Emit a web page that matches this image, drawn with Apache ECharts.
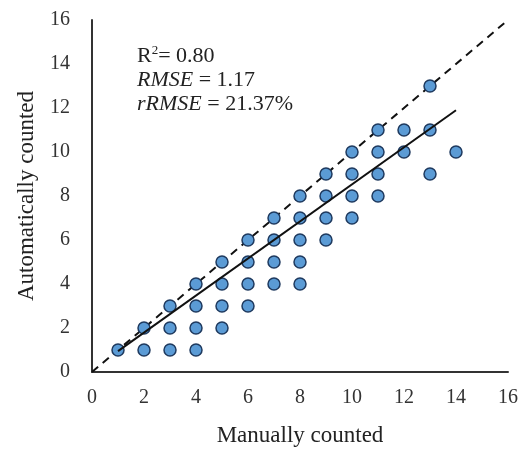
<!DOCTYPE html>
<html>
<head>
<meta charset="utf-8">
<script src="https://cdn.jsdelivr.net/npm/echarts@6/dist/echarts.min.js"></script>
<style>html,body{margin:0;padding:0;background:#fff}#c{width:525px;height:450px}</style>
</head>
<body>
<div id="c"></div>
<script>
var manual = [1,2,2,3,3,3,4,4,4,4,5,5,5,5,6,6,6,6,7,7,7,7,8,8,8,8,8,9,9,9,9,10,10,10,10,11,11,11,11,12,12,13,13,13,14];
var auto   = [1,1,2,1,2,3,1,2,3,4,2,3,4,5,3,4,5,6,4,5,6,7,4,5,6,7,8,6,7,8,9,7,8,9,10,8,9,10,11,10,11,9,11,13,10];
var oneToOneX = [0,16];
var oneToOneY = [0,16];
var fitX = [1,14];
var fitY = [0.95,11.9];
var ticks = [0,2,4,6,8,10,12,14,16];
var statLines = ['R\u00b2 = 0.80','RMSE = 1.17','rRMSE = 21.37%'];

var font = 'Liberation Serif';
var chart = echarts.init(document.getElementById('c'));
var pts = manual.map(function(v,i){return [v, auto[i]];});
chart.setOption({
  animation:false,
  grid:{left:92,right:17,top:20,bottom:78,containLabel:false,outerBoundsMode:'none'},
  xAxis:{type:'value',min:ticks[0],max:ticks[ticks.length-1],interval:2,
    name:'Manually counted',nameLocation:'middle',nameGap:52,
    nameTextStyle:{fontFamily:font,fontSize:23,color:'#222'},
    axisLine:{show:true,onZero:false,lineStyle:{color:'#333',width:2}},
    axisTick:{show:false},splitLine:{show:false},
    axisLabel:{fontFamily:font,fontSize:20,color:'#333',margin:16}},
  yAxis:{type:'value',min:ticks[0],max:ticks[ticks.length-1],interval:2,
    name:'Automatically counted',nameLocation:'middle',nameGap:54,
    nameTextStyle:{fontFamily:font,fontSize:23,color:'#222'},
    axisLine:{show:true,onZero:false,lineStyle:{color:'#333',width:2}},
    axisTick:{show:false},splitLine:{show:false},
    axisLabel:{fontFamily:font,fontSize:20,color:'#333',margin:22}},
  series:[
    {type:'line',data:oneToOneX.map(function(v,i){return [v,oneToOneY[i]];}),symbol:'none',
      lineStyle:{color:'#111',width:2,type:[8,6]},z:1},
    {type:'line',data:fitX.map(function(v,i){return [v,fitY[i]];}),symbol:'none',
      lineStyle:{color:'#111',width:2},z:3},
    {type:'scatter',data:pts,symbol:'circle',symbolSize:12,
      itemStyle:{color:'#5b9bd5',borderColor:'#1f3a5f',borderWidth:1.5,opacity:1},z:2}
  ],
  graphic:[{type:'text',left:137,top:44,style:{
    rich:{n:{fontFamily:font,fontSize:22,fill:'#222',lineHeight:24},
          i:{fontFamily:font,fontSize:22,fill:'#222',fontStyle:'italic',lineHeight:24},
          s:{fontFamily:font,fontSize:13,fill:'#222',verticalAlign:'top',lineHeight:24,padding:[0,0,9,0]}},
    text:'{n|R}{s|2}{n|= 0.80}\n{i|RMSE}{n| = 1.17}\n{i|rRMSE}{n| = 21.37%}'
  }}]
});
</script>
</body>
</html>
